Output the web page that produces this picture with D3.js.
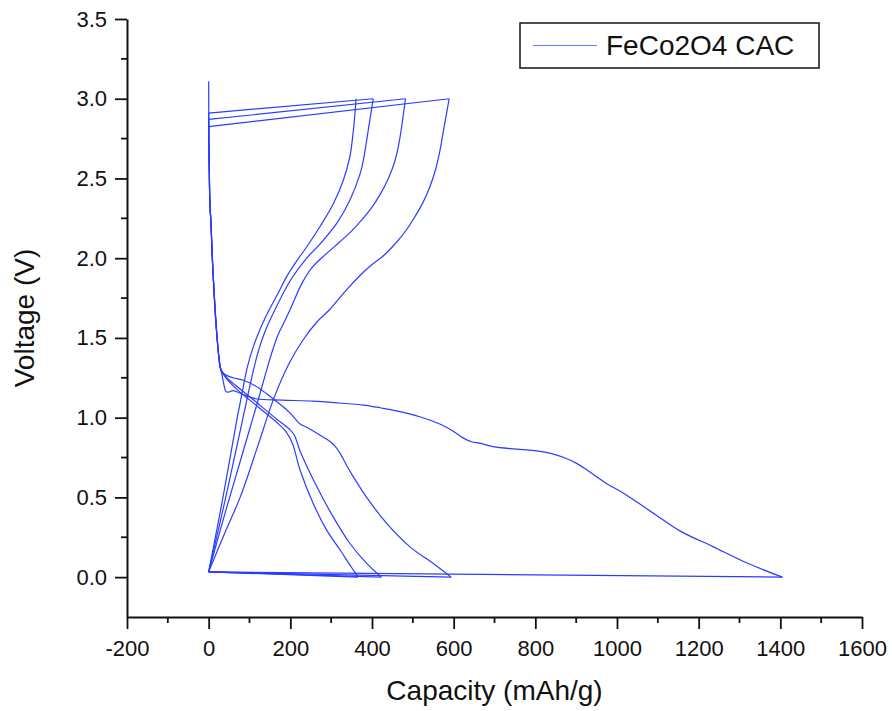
<!DOCTYPE html>
<html>
<head>
<meta charset="utf-8">
<script src="https://cdn.jsdelivr.net/npm/d3@7"></script>
<style>
    html, body { margin: 0; padding: 0; background: #fff; }
    #gcd-chart text { font-family: Arial, "Liberation Sans", sans-serif; fill: #111; }
</style>
</head>
<body>
<div id="gcd-chart"></div>
<script>
/* ----------------------- Data (capacity mAh/g, voltage V) ----------------------- */
const discharge1 = [
    [0, 3.11], [0.5, 2.8], [1.5, 2.55], [3, 2.35], [6, 2.2], [9, 2.0], [13, 1.8], [18, 1.59],
    [25, 1.38], [30, 1.3], [34, 1.25], [38, 1.2], [42, 1.165], [48, 1.16], [60, 1.17], [80, 1.15],
    [100, 1.13], [118, 1.117], [180, 1.11], [256, 1.104], [320, 1.092], [379, 1.079], [420, 1.062],
    [460, 1.043], [517, 1.006], [566, 0.96], [599, 0.915], [625, 0.87], [644, 0.849], [664, 0.84],
    [697, 0.818], [762, 0.801], [803, 0.792], [840, 0.775], [870, 0.75], [900, 0.715], [925, 0.675],
    [950, 0.63], [975, 0.585], [1007, 0.54], [1072, 0.431], [1154, 0.29], [1236, 0.19],
    [1317, 0.09], [1405, 0.0]
];
const charge1 = [
    [0, 0.033], [40, 0.28], [77, 0.5], [120, 0.82], [158, 1.11], [195, 1.33], [231, 1.487],
    [265, 1.6], [297, 1.68], [337, 1.8], [370, 1.89], [395, 1.95], [430, 2.02], [460, 2.1],
    [485, 2.18], [505, 2.26], [525, 2.35], [542, 2.45], [555, 2.55], [566, 2.67], [575, 2.8],
    [582, 2.9], [589, 3.0]
];
const discharge2 = [
    [0, 2.825], [0.5, 2.7], [1.5, 2.55], [3, 2.35], [6, 2.2], [9, 2.0], [13, 1.8], [18, 1.59],
    [25, 1.38], [30, 1.3], [40, 1.27], [60, 1.25], [85, 1.235], [114, 1.2], [142, 1.15], [167, 1.1],
    [199, 1.03], [224, 0.96], [240, 0.94], [273, 0.89], [297, 0.85], [310, 0.82], [322, 0.776],
    [338, 0.7], [354, 0.63], [387, 0.5], [436, 0.337], [493, 0.19], [550, 0.086], [594, 0.0]
];
const charge2 = [
    [0, 0.033], [40, 0.4], [80, 0.75], [120, 1.1], [140, 1.28], [155, 1.41], [170, 1.52],
    [185, 1.6], [199, 1.675], [230, 1.85], [256, 1.95], [289, 2.03], [320, 2.1], [350, 2.17],
    [375, 2.24], [400, 2.32], [420, 2.4], [440, 2.5], [455, 2.6], [466, 2.72], [474, 2.85],
    [482, 3.0]
];
const discharge3 = [
    [0, 2.87], [0.5, 2.7], [1.5, 2.55], [3, 2.35], [6, 2.2], [9, 2.0], [13, 1.8], [18, 1.59],
    [25, 1.38], [30, 1.3], [45, 1.25], [77, 1.18], [101, 1.13], [134, 1.06], [167, 0.99],
    [199, 0.925], [210, 0.89], [224, 0.79], [265, 0.567], [305, 0.378], [346, 0.211],
    [387, 0.086], [423, 0.0]
];
const charge3 = [
    [0, 0.033], [40, 0.48], [80, 0.95], [90, 1.07], [108, 1.28], [122, 1.42], [138, 1.54],
    [162, 1.675], [200, 1.86], [240, 2.0], [273, 2.09], [314, 2.22], [346, 2.365], [371, 2.53],
    [380, 2.63], [387, 2.74], [395, 2.87], [403, 3.0]
];
const discharge4 = [
    [0, 2.91], [0.5, 2.7], [1.5, 2.55], [3, 2.35], [6, 2.2], [9, 2.0], [13, 1.8], [18, 1.59],
    [25, 1.38], [30, 1.3], [45, 1.24], [77, 1.16], [101, 1.11], [134, 1.04], [167, 0.97],
    [190, 0.91], [205, 0.84], [224, 0.67], [256, 0.462], [289, 0.295], [322, 0.17], [345, 0.08],
    [366, 0.0]
];
const charge4 = [
    [0, 0.033], [35, 0.5], [70, 1.0], [80, 1.13], [95, 1.32], [110, 1.45], [125, 1.55],
    [148, 1.675], [170, 1.78], [190, 1.88], [215, 1.98], [240, 2.07], [273, 2.2], [305, 2.34],
    [330, 2.49], [346, 2.64], [353, 2.77], [358, 2.9], [361, 3.0]
];

const seriesName = "FeCo2O4 CAC";
const xTicks = [-200, 0, 200, 400, 600, 800, 1000, 1200, 1400, 1600];
const xMinorTicks = [-100, 100, 300, 500, 700, 900, 1100, 1300, 1500];
const yTicks = [0, 0.5, 1.0, 1.5, 2.0, 2.5, 3.0, 3.5];
const yMinorTicks = [0.25, 0.75, 1.25, 1.75, 2.25, 2.75, 3.25];

(function () {
    const W = 892, H = 711;
    const plot = { left: 127, right: 862, top: 19, bottom: 617 };
    const lineColor = "#2a3cff";

    const svg = d3.select("#gcd-chart")
        .append("svg")
        .attr("width", W)
        .attr("height", H);

    /* ----------------------- Scales ----------------------- */
    const x = d3.scaleLinear().domain([-200, 1600]).range([plot.left, plot.right]);
    const y = d3.scaleLinear().domain([-0.25, 3.5]).range([plot.bottom, plot.top]);

    /* ----------------------- Axes ----------------------- */
    // plain hyphen for negatives, like the original plot
    const xAxis = d3.axisBottom(x).tickValues(xTicks).tickFormat((d) => String(d))
        .tickSizeInner(12).tickSizeOuter(0).tickPadding(11);
    const yAxis = d3.axisLeft(y).tickValues(yTicks).tickFormat((d) => d.toFixed(1))
        .tickSizeInner(12).tickSizeOuter(0).tickPadding(8);

    const xg = svg.append("g")
        .attr("transform", `translate(0,${plot.bottom})`)
        .call(xAxis);
    const yg = svg.append("g")
        .attr("transform", `translate(${plot.left},0)`)
        .call(yAxis);

    // minor ticks
    xg.selectAll(".minor").data(xMinorTicks).enter().append("line")
        .attr("class", "minor")
        .attr("x1", (d) => x(d)).attr("x2", (d) => x(d))
        .attr("y1", 0).attr("y2", 6);
    yg.selectAll(".minor").data(yMinorTicks).enter().append("line")
        .attr("class", "minor")
        .attr("y1", (d) => y(d)).attr("y2", (d) => y(d))
        .attr("x1", 0).attr("x2", -6);

    [xg, yg].forEach((g) => {
        g.select(".domain").attr("stroke", "#111").attr("stroke-width", 2);
        g.selectAll("line").attr("stroke", "#111").attr("stroke-width", 1.8);
        g.selectAll(".tick text").style("font-size", "22px");
    });

    // axis titles
    svg.append("text")
        .attr("x", (plot.left + plot.right) / 2)
        .attr("y", 700)
        .attr("text-anchor", "middle")
        .style("font-size", "28px")
        .text("Capacity (mAh/g)");

    svg.append("text")
        .attr("transform", `translate(34,${(plot.top + plot.bottom) / 2}) rotate(-90)`)
        .attr("text-anchor", "middle")
        .style("font-size", "28px")
        .text("Voltage (V)");

    /* ----------------------- Curves ----------------------- */
    const halfCycles = [discharge1, charge1, discharge2, charge2, discharge3, charge3, discharge4, charge4];

    const curveLine = d3.line()
        .x((d) => x(d[0]))
        .y((d) => y(d[1]))
        .curve(d3.curveCatmullRom.alpha(0.5));
    const straightLine = d3.line()
        .x((d) => x(d[0]))
        .y((d) => y(d[1]));

    // straight jumps where the capacity resets between half cycles
    const resets = halfCycles.slice(1).map((seg, i) => {
        const prev = halfCycles[i];
        return [prev[prev.length - 1], seg[0]];
    });

    const curves = svg.append("g")
        .attr("fill", "none")
        .attr("stroke", lineColor)
        .attr("stroke-width", 1.2)
        .attr("stroke-linejoin", "round");

    curves.selectAll(".reset").data(resets).enter().append("path")
        .attr("class", "reset")
        .attr("d", straightLine);

    curves.selectAll(".cycle").data(halfCycles).enter().append("path")
        .attr("class", "cycle")
        .attr("d", curveLine);

    /* ----------------------- Legend ----------------------- */
    const legend = svg.append("g").attr("transform", "translate(520,23)");
    legend.append("rect")
        .attr("width", 299).attr("height", 45)
        .attr("fill", "#fff")
        .attr("stroke", "#222")
        .attr("stroke-width", 1.6);
    legend.append("line")
        .attr("x1", 13).attr("x2", 77)
        .attr("y1", 22.5).attr("y2", 22.5)
        .attr("stroke", lineColor)
        .attr("stroke-opacity", 0.7)
        .attr("stroke-width", 1.2);
    legend.append("text")
        .attr("x", 86).attr("y", 32)
        .style("font-size", "28px")
        .text(seriesName);
})();
</script>
</body>
</html>
